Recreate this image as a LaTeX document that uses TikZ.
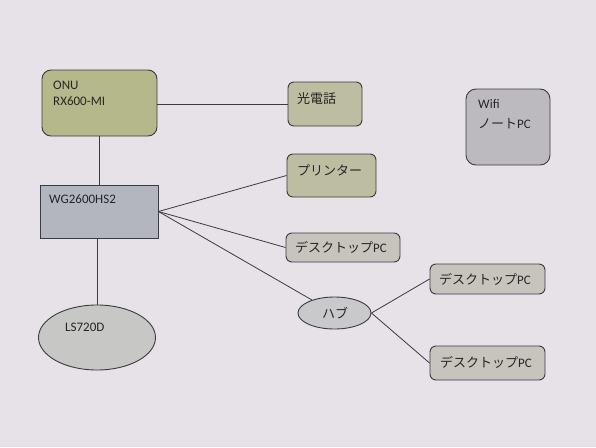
\documentclass[tikz,border=0pt]{standalone}
\usepackage{fontspec}
\setmainfont{Carlito}
\newfontfamily\jp{Noto Sans CJK JP}
\usetikzlibrary{shapes.geometric}
\definecolor{bg}{HTML}{E6E2E8}
\definecolor{olive}{HTML}{B5B88A}
\definecolor{olivegrey}{HTML}{BDBDA2}
\definecolor{greybox}{HTML}{C6C4BC}
\definecolor{wgfill}{HTML}{B3B6BE}
\definecolor{ellfill}{HTML}{C9C9CC}
\definecolor{edge}{HTML}{3A3A40}
\tikzset{
  box/.style={draw=edge, line width=0.9pt, rounded corners=6pt, inner sep=0pt},
  sqbox/.style={draw=edge, line width=0.9pt, inner sep=0pt},
  ell/.style={ellipse, draw=edge, line width=0.9pt, inner sep=0pt},
  txt/.style={anchor=west, inner sep=0pt, font=\fontsize{13}{15}\selectfont, text=black!85},
  conn/.style={draw=edge, line width=0.8pt},
}
\begin{document}
\begin{tikzpicture}[x=1pt,y=-1pt]
\fill[bg] (0,0) rectangle (596,447);
\useasboundingbox (0,0) rectangle (596,447);
% boxes
\node[box, fill=olive, minimum width=115pt, minimum height=66pt, rounded corners=9pt] (onu) at (99.5,103) {};
\node[box, fill=olivegrey, minimum width=74pt, minimum height=44pt] (tel) at (325,104) {};
\node[box, fill=olivegrey, minimum width=89pt, minimum height=43pt] (prn) at (331.5,175.5) {};
\node[box, fill=greybox, minimum width=114pt, minimum height=29pt] (pc1) at (343,247.5) {};
\node[box, fill=greybox!95!blue, minimum width=84pt, minimum height=76pt, rounded corners=10pt] (wifi) at (508,127) {};
\node[sqbox, fill=wgfill, minimum width=118pt, minimum height=53pt] (wg) at (99,211.5) {};
\node[ell, fill=ellfill, minimum width=73pt, minimum height=32pt] (hub) at (334.5,313) {};
\node[ell, fill=ellfill!90!olive, minimum width=117pt, minimum height=65pt] (ls) at (97,337.5) {};
\node[box, fill=greybox, minimum width=115pt, minimum height=30pt] (pc2) at (487.5,279) {};
\node[box, fill=greybox, minimum width=115pt, minimum height=34pt] (pc3) at (487.5,363) {};
% texts
\node[txt] (onut) at (53,85) {ONU};
\node[txt] (onut2) at (53,101) {RX600-MI};
\node[txt] (telt) at (297,99) {\jp 光電話};
\node[txt] (prnt) at (297,170) {\jp プリンター};
\node[txt] (pc1t) at (295,247) {{\jp デスクトップ}PC};
\node[txt] (wifit) at (478,104) {Wifi};
\node[txt] (wifit2) at (478,124) {{\jp ノート}PC};
\node[txt] (wgt) at (49,199) {WG2600HS2};
\node[txt, anchor=center] (hubt) at (335,313) {\jp ハブ};
\node[txt] (lst) at (65,327) {LS720D};
\node[txt] (pc2t) at (439,279) {{\jp デスクトップ}PC};
\node[txt] (pc3t) at (440,362) {{\jp デスクトップ}PC};
% connectors
\draw[conn] (onu.east |- tel.west) -- (tel.west);
\draw[conn] (onu.south -| wg.north) -- (wg.north);
\draw[conn] (wg.south -| ls.north) -- (ls.north);
\draw[conn] (wg.east) -- (prn.west);
\draw[conn] (wg.east) -- (pc1.west);
\draw[conn] (wg.east) -- (hub);
\draw[conn] (hub.east) -- (pc2.west);
\draw[conn] (hub.east) -- (pc3.west);
\end{tikzpicture}
\end{document}
